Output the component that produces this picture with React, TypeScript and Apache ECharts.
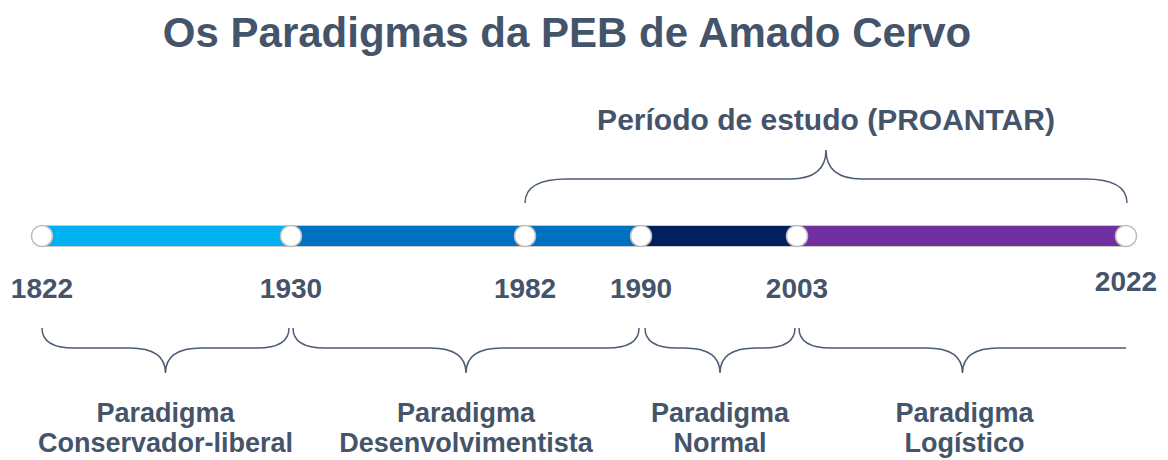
import React, { useEffect, useRef } from "react";
import * as echarts from "echarts";

// ---------- data ----------
const TITLE = "Os Paradigmas da PEB de Amado Cervo";
const milestoneYears = [1822, 1930, 1982, 1990, 2003, 2022];
const paradigmLabels = [
  "Paradigma\nConservador-liberal",
  "Paradigma\nDesenvolvimentista",
  "Paradigma\nNormal",
  "Paradigma\nLogístico",
];
const paradigmStart = [1822, 1930, 1990, 2003];
const paradigmEnd = [1930, 1990, 2003, 2022];
const studyLabel = "Período de estudo (PROANTAR)";
const studyPeriod = [1982, 2022];

// ---------- layout / style ----------
// position of each milestone along the track (percent), as drawn in the original slide
const MILESTONE_POS = [0, 22.97, 44.56, 55.26, 69.65, 100];
const PARADIGM_COLORS = ["#00B0F0", "#0070C0", "#002060", "#7030A0"];
const TEXT_COLOR = "#44546A";
const BRACE_COLOR = "#4E5D75";
const FONT = "'Liberation Sans', Arial, Helvetica, sans-serif";

const posOf = (year: number) => MILESTONE_POS[milestoneYears.indexOf(year)];

function bracePath(
  x0: number,
  x1: number,
  yEnd: number,
  yFlat: number,
  yTip: number,
  rEnd: number,
  rTip: number,
  rightCurl: boolean
) {
  const xm = (x0 + x1) / 2;
  let d = `M${x0},${yEnd} Q${x0},${yFlat} ${x0 + rEnd},${yFlat} L${xm - rTip},${yFlat} Q${xm},${yFlat} ${xm},${yTip} Q${xm},${yFlat} ${xm + rTip},${yFlat}`;
  if (rightCurl) {
    d += ` L${x1 - rEnd},${yFlat} Q${x1},${yFlat} ${x1},${yEnd}`;
  } else {
    d += ` L${x1},${yFlat}`;
  }
  return d;
}

export default function App() {
  const ref = useRef<HTMLDivElement>(null);

  useEffect(() => {
    if (!ref.current) return;
    const chart = echarts.init(ref.current, undefined, { renderer: "svg" });

    const trackData = paradigmStart.map((s, i) => [posOf(s), posOf(paradigmEnd[i]), i]);
    const braceData = paradigmStart.map((s, i) => [posOf(s), posOf(paradigmEnd[i]), i]);
    const studyData = [[posOf(studyPeriod[0]), posOf(studyPeriod[1]), 0]];

    const option: any = {
      animation: false,
      backgroundColor: "#ffffff",
      grid: { left: 42, right: 42, top: 226, height: 20 },
      xAxis: { type: "value", min: 0, max: 100, show: false },
      yAxis: { type: "value", min: 0, max: 1, show: false },
      graphic: [
        {
          type: "text",
          x: 567,
          y: 32,
          style: {
            text: TITLE,
            fontSize: 42,
            fontWeight: "bold",
            fontFamily: FONT,
            fill: TEXT_COLOR,
            align: "center",
            verticalAlign: "middle",
          },
        },
      ],
      series: [
        {
          type: "custom",
          name: "track",
          clip: false,
          z: 1,
          data: trackData,
          renderItem: (params: any, api: any) => {
            const a = api.coord([api.value(0), 0.5]);
            const b = api.coord([api.value(1), 0.5]);
            return {
              type: "rect",
              shape: { x: a[0], y: a[1] - 10.5, width: b[0] - a[0], height: 21 },
              style: {
                fill: PARADIGM_COLORS[api.value(2)],
                stroke: "#C9C9C9",
                lineWidth: 1,
              },
            };
          },
        },
        {
          type: "custom",
          name: "paradigms",
          clip: false,
          z: 2,
          data: braceData,
          renderItem: (params: any, api: any) => {
            const idx = api.value(2);
            const a = api.coord([api.value(0), 0.5]);
            const b = api.coord([api.value(1), 0.5]);
            const yc = a[1];
            const x0 = a[0] + (idx === 0 ? 0 : idx === 2 ? 4 : 2);
            const x1 = b[0] - (idx === paradigmStart.length - 1 ? 0 : 2);
            const last = idx === paradigmStart.length - 1;
            return {
              type: "group",
              children: [
                {
                  type: "path",
                  shape: {
                    pathData: bracePath(x0, x1, yc + 92, yc + 112, yc + 137, 32, 36, !last),
                  },
                  style: { fill: "none", stroke: BRACE_COLOR, lineWidth: 1.5 },
                },
                {
                  type: "text",
                  x: (x0 + x1) / 2 + (last ? 2 : 0),
                  y: yc + 192,
                  style: {
                    text: paradigmLabels[idx],
                    fontSize: 27,
                    fontWeight: "bold",
                    fontFamily: FONT,
                    fill: TEXT_COLOR,
                    align: "center",
                    verticalAlign: "middle",
                    lineHeight: 30,
                  },
                },
              ],
            };
          },
        },
        {
          type: "custom",
          name: "study",
          clip: false,
          z: 2,
          data: studyData,
          renderItem: (params: any, api: any) => {
            const a = api.coord([api.value(0), 0.5]);
            const b = api.coord([api.value(1), 0.5]);
            const yc = a[1];
            const x0 = a[0];
            const x1 = b[0] + 1;
            return {
              type: "group",
              children: [
                {
                  type: "path",
                  shape: {
                    pathData: bracePath(x0, x1, yc - 33, yc - 57, yc - 86, 42, 36, true),
                  },
                  style: { fill: "none", stroke: BRACE_COLOR, lineWidth: 1.5 },
                },
                {
                  type: "text",
                  x: (x0 + x1) / 2,
                  y: yc - 117,
                  style: {
                    text: studyLabel,
                    fontSize: 30,
                    fontWeight: "bold",
                    fontFamily: FONT,
                    fill: TEXT_COLOR,
                    align: "center",
                    verticalAlign: "middle",
                  },
                },
              ],
            };
          },
        },
        {
          type: "scatter",
          name: "milestones",
          clip: false,
          z: 5,
          symbol: "circle",
          symbolSize: 21,
          itemStyle: { color: "#FFFFFF", borderColor: "#BDBDBD", borderWidth: 1.5, opacity: 1 },
          label: {
            show: true,
            position: "bottom",
            distance: 26,
            formatter: (p: any) => String(milestoneYears[p.dataIndex]),
            fontSize: 28,
            fontWeight: "bold",
            fontFamily: FONT,
            color: TEXT_COLOR,
            lineHeight: 30,
          },
          emphasis: { disabled: true },
          data: milestoneYears.map((y, i) => ({
            value: [posOf(y), 0.5],
            label: i === milestoneYears.length - 1 ? { offset: [0, -7] } : undefined,
          })),
        },
      ],
    };

    chart.setOption(option);
    return () => chart.dispose();
  }, []);

  return (
    <div
      ref={ref}
      style={{ position: "fixed", left: 0, top: 0, width: 1168, height: 460, background: "#fff" }}
    />
  );
}
